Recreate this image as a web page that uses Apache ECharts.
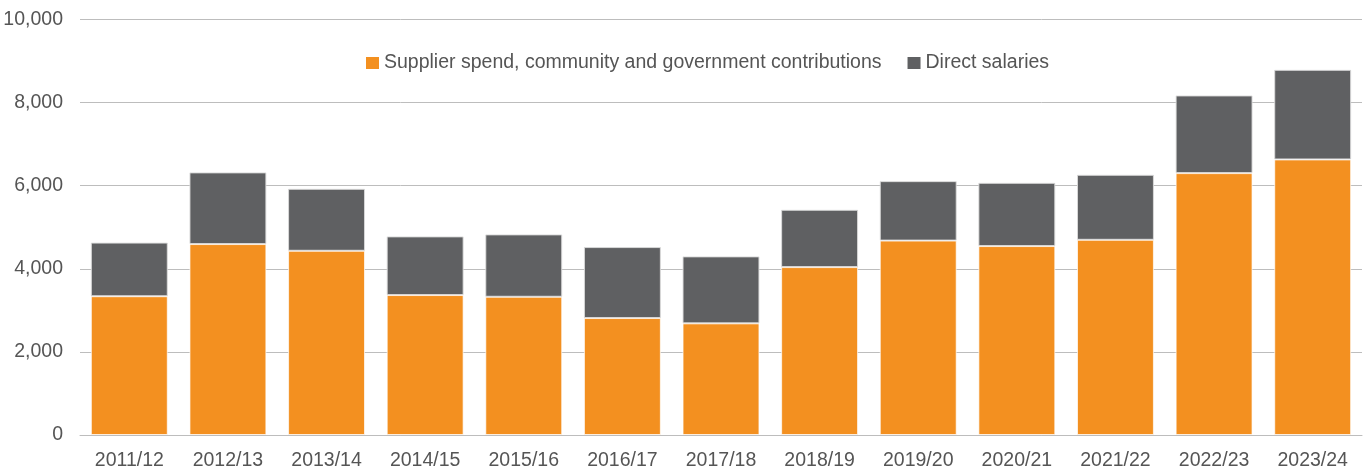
<!DOCTYPE html>
<html>
<head>
<meta charset="utf-8">
<script src="https://cdn.jsdelivr.net/npm/echarts@6/dist/echarts.min.js"></script>
<style>
  html, body { margin: 0; padding: 0; background: #ffffff; }
  #chart { width: 1367px; height: 468px; }
</style>
</head>
<body>
<div id="chart"></div>
<script>
// Fiscal years on the category axis
const years = ['2011/12', '2012/13', '2013/14', '2014/15', '2015/16', '2016/17', '2017/18',
               '2018/19', '2019/20', '2020/21', '2021/22', '2022/23', '2023/24'];

// Stacked components
const supplierSpend = [3340, 4595, 4434, 3368, 3327, 2815, 2687, 4041, 4679, 4547, 4698, 6303, 6632];
const directSalaries = [1290, 1725, 1491, 1412, 1501, 1708, 1612, 1379, 1431, 1522, 1564, 1869, 2156];

const seriesNames = ['Supplier spend, community and government contributions', 'Direct salaries'];

const fontFamily = '"Liberation Sans", Arial, Helvetica, sans-serif';
const textColor = '#555555';

const chart = echarts.init(document.getElementById('chart'), null, { renderer: 'canvas' });

chart.setOption({
  animation: false,
  backgroundColor: '#ffffff',
  textStyle: { fontFamily: fontFamily },
  legend: {
    top: 48,
    left: 361,
    itemWidth: 13,
    itemHeight: 12,
    itemGap: 26,
    icon: 'rect',
    itemStyle: { borderWidth: 0 },
    textStyle: { color: textColor, fontSize: 19.5, fontFamily: fontFamily },
    data: seriesNames
  },
  grid: {
    left: 80,
    right: 5,
    top: 19.5,
    bottom: 33,
    containLabel: false,
    outerBoundsMode: 'none'
  },
  xAxis: {
    type: 'category',
    data: years,
    axisLine: { show: true, lineStyle: { color: '#bdbdbd', width: 1 } },
    axisTick: { show: false },
    axisLabel: { color: textColor, fontSize: 19.5, margin: 16, fontFamily: fontFamily }
  },
  yAxis: {
    type: 'value',
    min: 0,
    max: 10000,
    interval: 2000,
    axisLine: { show: false },
    axisTick: { show: false },
    splitLine: { lineStyle: { color: '#bdbdbd', width: 1 } },
    axisLabel: {
      color: textColor,
      fontSize: 19.5,
      margin: 17,
      fontFamily: fontFamily,
      formatter: function (v) { return v.toLocaleString('en-US'); }
    }
  },
  series: [
    {
      name: seriesNames[0],
      type: 'bar',
      stack: 'total',
      data: supplierSpend,
      barCategoryGap: '22%',
      itemStyle: { color: '#f39020', borderColor: 'rgba(255,255,255,0.7)', borderWidth: 1 }
    },
    {
      name: seriesNames[1],
      type: 'bar',
      stack: 'total',
      data: directSalaries,
      barCategoryGap: '22%',
      itemStyle: { color: '#5f6062', borderColor: 'rgba(220,220,220,0.9)', borderWidth: 1 }
    }
  ]
});
</script>
</body>
</html>
